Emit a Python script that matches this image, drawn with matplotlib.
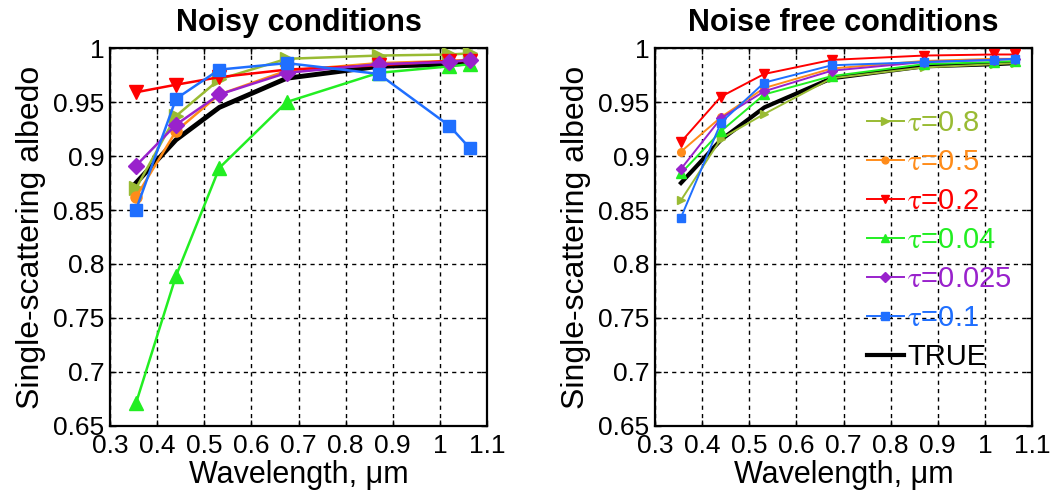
import matplotlib
matplotlib.use('Agg')
import matplotlib.pyplot as plt
from matplotlib.ticker import FixedLocator, FixedFormatter

plt.rcParams['font.family'] = ['Liberation Sans', 'DejaVu Sans']
plt.rcParams['mathtext.fontset'] = 'stix'

# wavelengths, um
wl = [0.355, 0.44, 0.532, 0.675, 0.87, 1.02, 1.064]

labels = ['0.8', '0.5', '0.2', '0.04', '0.025', '0.1']
colors = ['#99bb33', '#ff8c1a', '#ff0000', '#22ee22', '#9922cc', '#1f6fff']
markers = ['>', 'o', 'v', '^', 'D', 's']

# noisy conditions
noisy_08 = [0.870, 0.937, 0.971, 0.990, 0.993, 0.994, 0.995]
noisy_05 = [0.862, 0.923, 0.957, 0.979, 0.986, 0.988, 0.989]
noisy_02 = [0.959, 0.966, 0.973, 0.980, 0.984, 0.988, 0.988]
noisy_004 = [0.671, 0.789, 0.889, 0.950, 0.977, 0.983, 0.985]
noisy_0025 = [0.891, 0.929, 0.957, 0.977, 0.985, 0.987, 0.989]
noisy_01 = [0.850, 0.953, 0.980, 0.986, 0.976, 0.928, 0.907]

# noise free conditions
free_08 = [0.859, 0.916, 0.939, 0.972, 0.982, 0.985, 0.986]
free_05 = [0.904, 0.936, 0.963, 0.981, 0.988, 0.990, 0.990]
free_02 = [0.913, 0.955, 0.976, 0.989, 0.993, 0.994, 0.994]
free_004 = [0.884, 0.923, 0.957, 0.974, 0.985, 0.987, 0.988]
free_0025 = [0.888, 0.935, 0.960, 0.979, 0.987, 0.989, 0.990]
free_01 = [0.843, 0.931, 0.968, 0.984, 0.987, 0.989, 0.990]

true_ssa = [0.875, 0.915, 0.945, 0.972, 0.983, 0.985, 0.986]

noisy = [noisy_08, noisy_05, noisy_02, noisy_004, noisy_0025, noisy_01]
free = [free_08, free_05, free_02, free_004, free_0025, free_01]

xticks = [0.3, 0.4, 0.5, 0.6, 0.7, 0.8, 0.9, 1.0, 1.1]
xticklabels = ['0.3', '0.4', '0.5', '0.6', '0.7', '0.8', '0.9', '1', '1.1']
yticks = [0.65, 0.7, 0.75, 0.8, 0.85, 0.9, 0.95, 1.0]
yticklabels = ['0.65', '0.7', '0.75', '0.8', '0.85', '0.9', '0.95', '1']

fig = plt.figure(figsize=(10.56, 4.99), dpi=100)
ax1 = fig.add_axes([0.1042, 0.1463, 0.357, 0.7575])
ax2 = fig.add_axes([0.6203, 0.1463, 0.357, 0.7575])

msize_big = {'>': 10, 'o': 8, 'v': 10, '^': 10, 'D': 8, 's': 8.5}
msize_small = {'>': 6, 'o': 5.5, 'v': 6.5, '^': 6.5, 'D': 5.5, 's': 6}

for ys, c, m, lab in zip(noisy, colors, markers, labels):
    ax1.plot(wl, ys, color=c, marker=m, ms=msize_big[m], lw=1.8, mec=c,
             label=r'$\mathrm{\tau}$=' + lab, zorder=3)
ax1.plot(wl, true_ssa, color='black', lw=3.5, label='TRUE', zorder=2.5)

for ys, c, m, lab in zip(free, colors, markers, labels):
    ax2.plot(wl, ys, color=c, marker=m, ms=msize_small[m], lw=1.4, mec=c,
             label=r'$\mathrm{\tau}$=' + lab, zorder=3)
ax2.plot(wl, true_ssa, color='black', lw=3, label='TRUE', zorder=2.5)

for ax, title in [(ax1, 'Noisy conditions'), (ax2, 'Noise free conditions')]:
    ax.set_xlim(0.3, 1.1)
    ax.set_ylim(0.65, 1.0)
    ax.xaxis.set_major_locator(FixedLocator(xticks))
    ax.xaxis.set_major_formatter(FixedFormatter(xticklabels))
    ax.yaxis.set_major_locator(FixedLocator(yticks))
    ax.yaxis.set_major_formatter(FixedFormatter(yticklabels))
    ax.grid(True, color='black', linestyle=(0, (3, 3)), lw=1.0, zorder=1)
    ax.tick_params(direction='in', top=True, right=True, length=4, width=1,
                   labelsize=19)
    ax.tick_params(axis='x', pad=6)
    ax.tick_params(axis='y', pad=4)
    for sp in ax.spines.values():
        sp.set_linewidth(1.6)
    ax.set_title(title, fontsize=22, fontweight='bold', pad=12)
    ax.set_xlabel('Wavelength, μm', fontsize=22, labelpad=1)
    ax.set_ylabel('Single-scattering albedo', fontsize=23, labelpad=5)

leg = ax2.legend(loc='upper left', bbox_to_anchor=(0.53, 0.87), frameon=False,
                 fontsize=21, handlelength=1.3, handletextpad=0.1,
                 labelspacing=0.38, borderaxespad=0, markerscale=0.9)
for txt, line in zip(leg.get_texts(), leg.get_lines()):
    txt.set_color(line.get_color())

fig.savefig('out.png', dpi=100)
